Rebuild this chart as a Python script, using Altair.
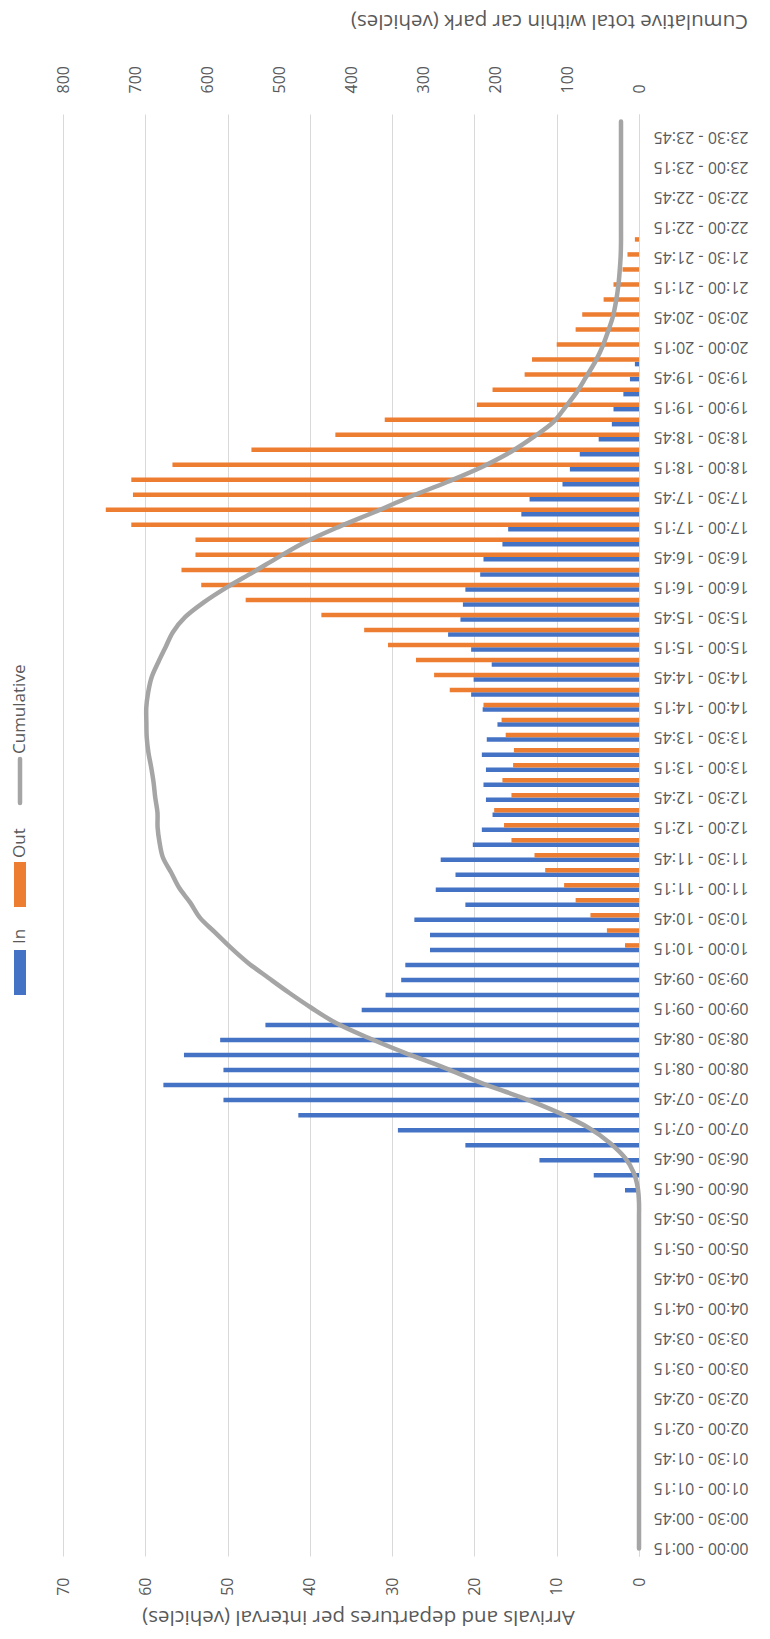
import altair as alt
import pandas as pd


def _fmt(m):
    return f"{m // 60:02d}:{m % 60:02d}"


# 96 quarter-hour intervals
SLOTS = [f"{_fmt(m)} - {_fmt((m + 15) % 1440)}" for m in range(0, 1440, 15)]

# Arrivals per interval (vehicles)
IN_VALUES = [
    0, 0, 0, 0, 0, 0, 0, 0, 0, 0, 0, 0,            # 00:00 - 02:45
    0, 0, 0, 0, 0, 0, 0, 0, 0, 0, 0, 0,            # 03:00 - 05:45
    1.7, 5.5, 12.1, 21.1, 29.3, 41.4, 50.5, 57.8,  # 06:00 - 07:45
    50.5, 55.3, 50.9, 45.4, 33.7, 30.8, 28.9, 28.4,  # 08:00 - 09:45
    25.4, 25.4, 27.3, 21.1, 24.7, 22.3, 24.1, 20.2,  # 10:00 - 11:45
    19.1, 17.8, 18.6, 18.9, 18.6, 19.1, 18.5, 17.2,  # 12:00 - 13:45
    19.0, 20.4, 20.1, 17.9, 20.4, 23.2, 21.7, 21.4,  # 14:00 - 15:45
    21.1, 19.3, 18.9, 16.6, 15.9, 14.3, 13.3, 9.3,   # 16:00 - 17:45
    8.4, 7.2, 4.9, 3.3, 3.1, 1.9, 1.1, 0.5,          # 18:00 - 19:45
    0, 0, 0, 0, 0, 0, 0, 0,                          # 20:00 - 21:45
    0, 0, 0, 0, 0, 0, 0, 0,                          # 22:00 - 23:45
]

# Departures per interval (vehicles)
OUT_VALUES = [
    0, 0, 0, 0, 0, 0, 0, 0, 0, 0, 0, 0,            # 00:00 - 02:45
    0, 0, 0, 0, 0, 0, 0, 0, 0, 0, 0, 0,            # 03:00 - 05:45
    0, 0, 0, 0, 0, 0, 0, 0,                        # 06:00 - 07:45
    0, 0, 0, 0, 0, 0, 0, 0,                        # 08:00 - 09:45
    1.7, 3.9, 5.9, 7.7, 9.1, 11.4, 12.7, 15.5,       # 10:00 - 11:45
    16.4, 17.6, 15.5, 16.6, 15.3, 15.2, 16.2, 16.7,  # 12:00 - 13:45
    18.9, 23.0, 24.9, 27.1, 30.5, 33.4, 38.6, 47.8,  # 14:00 - 15:45
    53.2, 55.6, 53.9, 53.9, 61.7, 64.8, 61.5, 61.7,  # 16:00 - 17:45
    56.7, 47.1, 36.9, 30.9, 19.7, 17.8, 13.9, 13.0,  # 18:00 - 19:45
    10.0, 7.7, 6.9, 4.3, 3.1, 2.0, 1.4, 0.5,         # 20:00 - 21:45
    0, 0, 0, 0, 0, 0, 0, 0,                          # 22:00 - 23:45
]

# Cumulative total within car park (vehicles)
CUM_VALUES = [
    0, 0, 0, 0, 0, 0, 0, 0, 0, 0, 0, 0,
    0, 0, 0, 0, 0, 0, 0, 0, 0, 0, 0, 0,
    1.7, 7.2, 19.3, 40.4, 69.7, 111.1, 161.6, 219.4,
    269.9, 325.2, 376.1, 421.5, 455.2, 486.0, 514.9, 543.3,
    567.0, 588.5, 609.9, 623.3, 638.9, 649.8, 661.2, 665.9,
    668.6, 668.8, 671.9, 674.2, 677.5, 681.4, 683.7, 684.2,
    684.3, 681.7, 676.9, 667.7, 657.6, 647.4, 630.5, 604.1,
    572.0, 535.7, 500.7, 463.4, 417.6, 367.1, 318.9, 266.5,
    218.2, 178.3, 146.3, 118.7, 102.1, 86.2, 73.4, 60.9,
    50.9, 43.2, 36.3, 32.0, 28.9, 26.9, 25.5, 25.0,
    25.0, 25.0, 25.0, 25.0, 25.0, 25.0, 25.0, 25.0,
]

SERIES = ["In", "Out"]
SERIES_COLORS = ["#4472C4", "#ED7D31"]
LINE_NAME = "Cumulative"
LINE_COLOR = "#A5A5A5"
LEFT_TICKS = [0, 10, 20, 30, 40, 50, 60, 70]
RIGHT_TICKS = [0, 100, 200, 300, 400, 500, 600, 700, 800]
LABEL_SLOTS = SLOTS[::2]

FONT = "Open Sans"
TXT = "#595959"
GRID = "#D9D9D9"

bars_df = pd.DataFrame({
    "slot": SLOTS + SLOTS,
    "series": ["In"] * len(SLOTS) + ["Out"] * len(SLOTS),
    "value": IN_VALUES + OUT_VALUES,
})
line_df = pd.DataFrame({"slot": SLOTS, "idx": list(range(len(SLOTS))), "cum": CUM_VALUES})

y_enc = alt.Y(
    "slot:N",
    scale=alt.Scale(domain=SLOTS[::-1], paddingInner=0.4, paddingOuter=0.2),
    axis=alt.Axis(
        orient="right", values=LABEL_SLOTS, labelAngle=180, labelAlign="right",
        labelBaseline="middle", labelPadding=14, ticks=False, domain=True,
        domainColor=GRID, domainWidth=1, grid=False, title=None,
        labelFont=FONT, labelFontSize=16, labelColor=TXT, labelOverlap=False,
    ),
)

bars = alt.Chart(bars_df).mark_bar().encode(
    y=y_enc,
    yOffset=alt.YOffset("series:N", sort=["Out", "In"], scale=alt.Scale(paddingInner=0, paddingOuter=0)),
    x=alt.X(
        "value:Q",
        scale=alt.Scale(domain=[0, 70], reverse=True, nice=False),
        axis=alt.Axis(
            orient="bottom", values=LEFT_TICKS, labelAngle=270, labelAlign="right",
            labelBaseline="middle", labelPadding=21, ticks=False, domain=False,
            grid=True, gridColor=GRID, gridWidth=1,
            title="Arrivals and departures per interval (vehicles)",
            titleAngle=180, titleBaseline="middle", titleAlign="center",
            titleY=60, titleX=295,
            titleFont=FONT, titleFontSize=20.5, titleFontWeight="normal", titleColor=TXT,
            labelFont=FONT, labelFontSize=16, labelColor=TXT,
        ),
    ),
    color=alt.Color("series:N", scale=alt.Scale(domain=SERIES, range=SERIES_COLORS), legend=None),
)

line = alt.Chart(line_df).mark_line(
    color=LINE_COLOR, strokeWidth=4.5, strokeCap="round", interpolate="catmull-rom"
).encode(
    y=y_enc,
    x=alt.X(
        "cum:Q",
        scale=alt.Scale(domain=[0, 800], reverse=True, nice=False),
        axis=alt.Axis(
            orient="top", values=RIGHT_TICKS, labelAngle=270, labelAlign="left",
            labelBaseline="middle", labelPadding=21, ticks=False, domain=False, grid=False,
            title="Cumulative total within car park (vehicles)",
            titleAngle=180, titleBaseline="middle", titleAlign="center",
            titleY=-94, titleX=486,
            titleFont=FONT, titleFontSize=20.5, titleFontWeight="normal", titleColor=TXT,
            labelFont=FONT, labelFontSize=16, labelColor=TXT,
        ),
    ),
    order="idx:Q",
)

# Manual legend (rotated text, as in the reference)
LEG_X = -43


def legend_text(name, y):
    return alt.Chart(pd.DataFrame({"label": [name]})).mark_text(
        angle=270, align="left", baseline="middle", font=FONT, fontSize=17, color=TXT
    ).encode(x=alt.value(LEG_X), y=alt.value(y), text="label:N")


def legend_rect(color, y0, y1):
    return alt.Chart(pd.DataFrame({"label": ["r"]})).mark_rect(color=color).encode(
        x=alt.value(LEG_X - 6), x2=alt.value(LEG_X + 6), y=alt.value(y0), y2=alt.value(y1)
    )


leg_in_r = legend_rect(SERIES_COLORS[0], 836, 881)
leg_in_t = legend_text(SERIES[0], 830)
leg_out_r = legend_rect(SERIES_COLORS[1], 748, 793)
leg_out_t = legend_text(SERIES[1], 744)
leg_line = alt.Chart(pd.DataFrame({"label": [LINE_NAME]})).mark_rule(
    color=LINE_COLOR, strokeWidth=4.5, strokeCap="round"
).encode(x=alt.value(LEG_X), y=alt.value(645), y2=alt.value(689))
leg_line_t = legend_text(LINE_NAME, 640)

chart = alt.layer(
    bars, line, leg_in_r, leg_in_t, leg_out_r, leg_out_t, leg_line, leg_line_t
).resolve_scale(x="independent").properties(
    width=576, height=1442,
    autosize=alt.AutoSizeParams(type="none"),
    padding={"left": 55, "top": 106, "right": 123, "bottom": 75},
).configure_view(stroke=None)

chart.save("out.html", embed_options={"renderer": "svg", "actions": False})
